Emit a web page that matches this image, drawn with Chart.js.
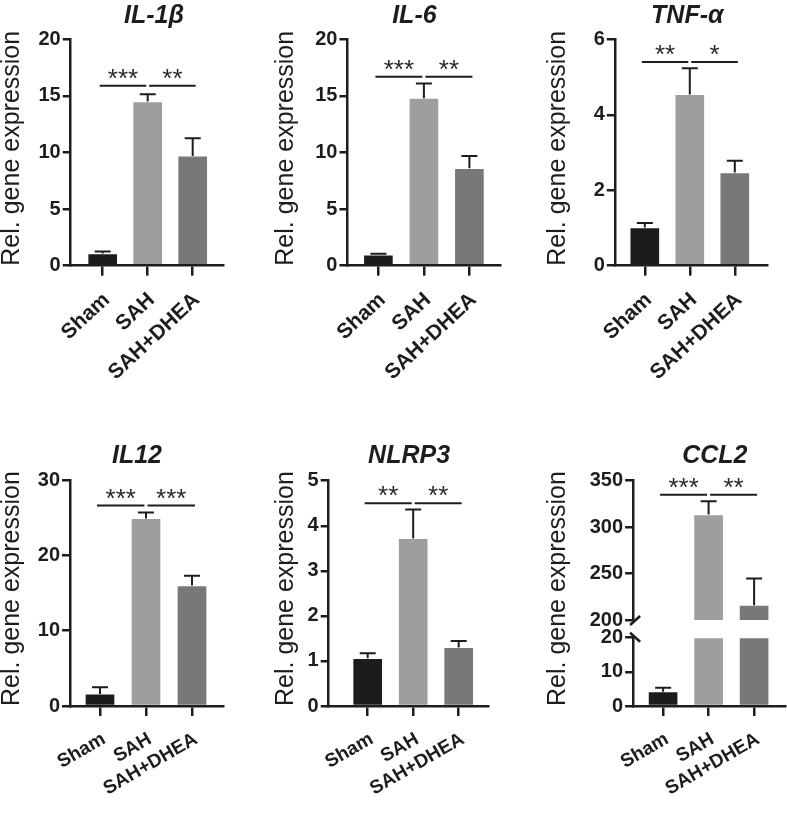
<!DOCTYPE html>
<html>
<head>
<meta charset="utf-8">
<script src="https://cdn.jsdelivr.net/npm/chart.js@4.4.0/dist/chart.umd.min.js"></script>
<style>
  body { margin: 0; background: #fff; }
  #wrap { position: relative; width: 787px; height: 821px; overflow: hidden; }
  .panel { position: absolute; }
</style>
</head>
<body>
<div id="wrap"></div>
<script>
// groups on the x axis
var groups = ['Sham', 'SAH', 'SAH+DHEA'];
var barColors = ['#1c1c1c', '#9e9e9e', '#787878'];

// mean and SEM
var il1b_mean = [1.08, 14.5, 9.7];
var il1b_sem = [0.17, 0.65, 1.55];
var il1b_sig = ['***', '**'];
var il1b_sigLevel = 15.9;

var il6_mean = [0.97, 14.8, 8.6];
var il6_sem = [0.08, 1.3, 1.1];
var il6_sig = ['***', '**'];
var il6_sigLevel = 16.7;

var tnf_mean = [1.01, 4.54, 2.47];
var tnf_sem = [0.12, 0.69, 0.31];
var tnf_sig = ['**', '*'];
var tnf_sigLevel = 5.4;

var il12_mean = [1.6, 24.9, 16.0];
var il12_sem = [0.9, 0.8, 1.3];
var il12_sig = ['***', '***'];
var il12_sigLevel = 26.6;

var nlrp3_mean = [1.06, 3.72, 1.30];
var nlrp3_sem = [0.11, 0.64, 0.14];
var nlrp3_sig = ['**', '**'];
var nlrp3_sigLevel = 4.5;

var ccl2_mean = [4.2, 313.6, 216];
var ccl2_sem = [1.15, 14.4, 28.8];
var ccl2_sig = ['***', '**'];
var ccl2_sigLevel = 335;

var ink = '#1d1d1d';
var family = "'Liberation Sans', Arial, sans-serif";

var panels = [
  {title: 'IL-1β', mean: il1b_mean, sem: il1b_sem, sig: il1b_sig, sigLevel: il1b_sigLevel, yMax: 20, yStep: 5},
  {title: 'IL-6', mean: il6_mean, sem: il6_sem, sig: il6_sig, sigLevel: il6_sigLevel, yMax: 20, yStep: 5},
  {title: 'TNF-α', mean: tnf_mean, sem: tnf_sem, sig: tnf_sig, sigLevel: tnf_sigLevel, yMax: 6, yStep: 2},
  {title: 'IL12', mean: il12_mean, sem: il12_sem, sig: il12_sig, sigLevel: il12_sigLevel, yMax: 30, yStep: 10},
  {title: 'NLRP3', mean: nlrp3_mean, sem: nlrp3_sem, sig: nlrp3_sig, sigLevel: nlrp3_sigLevel, yMax: 5, yStep: 1},
  {title: 'CCL2', mean: ccl2_mean, sem: ccl2_sem, sig: ccl2_sig, sigLevel: ccl2_sigLevel, yMax: 20, yStep: 10,
   broken: true, highMin: 200, highMax: 350, highStep: 50}
];

// where each panel sits on the page (px); rot/lab = x label angle and size
var frames = [
  {rowTop: 0, rowH: 410, left: 0, axisX: 70.7, topY: 39.3, zeroY: 265.7, rightX: 223, c0: 32, s: 45, tx: 154, ty: 22.7, rot: 43, lab: 21},
  {rowTop: 0, rowH: 410, left: 273.6, axisX: 347, topY: 39.3, zeroY: 265.7, rightX: 500, c0: 31, s: 45.5, tx: 414, ty: 22.7, rot: 43, lab: 21},
  {rowTop: 0, rowH: 410, left: 546.2, axisX: 615, topY: 39.3, zeroY: 265.7, rightX: 767, c0: 30, s: 45, tx: 687.5, ty: 22.7, rot: 43, lab: 21},
  {rowTop: 410, rowH: 411, left: 0, axisX: 70, topY: 480, zeroY: 706, rightX: 223, c0: 30, s: 46, tx: 137, ty: 462.7, rot: 30, lab: 19},
  {rowTop: 410, rowH: 411, left: 273.6, axisX: 328.3, topY: 480.7, zeroY: 706, rightX: 488.3, c0: 39, s: 45.5, tx: 408.7, ty: 462.7, rot: 30, lab: 19},
  {rowTop: 410, rowH: 411, left: 546.2, axisX: 633.3, topY: 480.7, zeroY: 706, rightX: 785, c0: 30, s: 45.5, tx: 715, ty: 462.7, rot: 30, lab: 19,
   breakY: 620, lowTopY: 637.7}
];

var errorBars = {
  id: 'errorBars',
  afterDatasetsDraw: function(chart, args, o) {
    var ctx = chart.ctx, xs = chart.scales.x;
    ctx.save();
    ctx.strokeStyle = ink;
    ctx.lineWidth = 2;
    o.mean.forEach(function(m, i) {
      var ys = (chart.scales.yTop && m >= chart.scales.yTop.min) ? chart.scales.yTop : chart.scales.y;
      var x = xs.getPixelForValue(i);
      var y0 = ys.getPixelForValue(m), y1 = ys.getPixelForValue(m + o.sem[i]);
      ctx.beginPath();
      ctx.moveTo(x, y0); ctx.lineTo(x, y1);
      ctx.moveTo(x - 8, y1); ctx.lineTo(x + 8, y1);
      ctx.stroke();
    });
    ctx.restore();
  }
};

var panelText = {
  id: 'panelText',
  afterDraw: function(chart, args, o) {
    var ctx = chart.ctx, xs = chart.scales.x;
    var ys = chart.scales.yTop || chart.scales.y;
    ctx.save();
    ctx.fillStyle = ink;
    ctx.font = 'italic bold 25px ' + family;
    ctx.textAlign = 'center';
    ctx.textBaseline = 'alphabetic';
    ctx.fillText(o.title, o.tx, o.ty);

    // significance brackets
    var yy = ys.getPixelForValue(o.sigLevel);
    var p0 = xs.getPixelForValue(0), p1 = xs.getPixelForValue(1), p2 = xs.getPixelForValue(2);
    var segs = [[p0 - 3, p1 - 1.5], [p1 + 1.5, p2 + 3]];
    ctx.strokeStyle = ink;
    ctx.lineWidth = 2;
    ctx.font = '26px ' + family;
    ctx.fillStyle = '#2a2a2a';
    segs.forEach(function(sg, k) {
      ctx.beginPath(); ctx.moveTo(sg[0], yy); ctx.lineTo(sg[1], yy); ctx.stroke();
      ctx.fillText(o.sig[k], (sg[0] + sg[1]) / 2, yy + 1);
    });

    // axis break marks
    if (chart.scales.yTop) {
      var ax = chart.chartArea.left;
      var b = chart.scales.yTop.bottom, t = chart.scales.y.top;
      ctx.strokeStyle = ink;
      ctx.lineWidth = 2.5;
      ctx.beginPath();
      ctx.moveTo(ax - 3, b + 5); ctx.lineTo(ax + 7, b - 4);
      ctx.moveTo(ax - 3, t - 5); ctx.lineTo(ax + 7, t + 4);
      ctx.stroke();
    }
    ctx.restore();
  }
};

function yScale(min, max, step, W) {
  return {
    min: min, max: max,
    ticks: { stepSize: step, autoSkip: false, color: ink, padding: 2, font: {family: family, size: 20, weight: 'bold'} },
    grid: { drawOnChartArea: false, drawTicks: true, tickLength: 8, lineWidth: 2.5, color: ink, z: 1 },
    border: { display: true, color: ink, width: 2.5, z: 1 },
    afterFit: function(sc) { sc.width = W; }
  };
}

function buildPanel(p, L) {
  var w = Math.ceil(L.rightX - L.left + 3);
  var div = document.createElement('div');
  div.className = 'panel';
  div.style.left = L.left + 'px';
  div.style.top = L.rowTop + 'px';
  div.style.width = w + 'px';
  div.style.height = L.rowH + 'px';
  var cv = document.createElement('canvas');
  div.appendChild(cv);
  document.getElementById('wrap').appendChild(div);

  var H = L.rowTop === 0 ? 130 : 110;
  var W = L.axisX - L.left;
  var xmin = -L.c0 / L.s;

  var scales = {
    x: {
      type: 'linear',
      offset: false,
      min: xmin,
      max: xmin + (L.rightX - L.axisX) / L.s,
      afterBuildTicks: function(sc) { sc.ticks = groups.map(function(g, i) { return {value: i}; }); },
      afterFit: function(sc) { sc.height = H; },
      ticks: {
        callback: function(v) { return groups[v]; },
        minRotation: L.rot, maxRotation: L.rot, autoSkip: false,
        color: ink, padding: 12, labelOffset: 4,
        font: {family: family, size: L.lab, weight: 'bold'}
      },
      grid: { offset: false, drawOnChartArea: false, drawTicks: true, tickLength: 10, lineWidth: 2.5, color: ink, z: 1 },
      border: { display: true, color: ink, width: 2.5, z: 1 }
    }
  };

  var title = { display: true, text: 'Rel. gene expression', align: 'start', color: ink, padding: 0,
                font: {family: family, size: 25, lineHeight: 1} };

  var datasets;
  var base = { backgroundColor: barColors, borderColor: 'rgba(255,255,255,0.35)', borderWidth: 1,
               barThickness: 30, grouped: false };
  if (!p.broken) {
    scales.y = yScale(0, p.yMax, p.yStep, W);
    scales.y.title = title;
    datasets = [Object.assign({ data: p.mean.map(function(v, i) { return {x: i, y: v}; }) }, base)];
  } else {
    scales.y = yScale(0, p.yMax, p.yStep, W);
    scales.y.title = title;
    scales.y.stack = 'ccl';
    scales.y.stackWeight = L.zeroY - L.lowTopY;
    scales.y.weight = 1;
    scales.yGap = {
      min: 0, max: 1, stack: 'ccl', stackWeight: L.lowTopY - L.breakY, weight: 2,
      ticks: {display: false}, grid: {display: false}, border: {display: false},
      afterFit: function(sc) { sc.width = W; }
    };
    scales.yTop = yScale(p.highMin, p.highMax, p.highStep, W);
    scales.yTop.stack = 'ccl';
    scales.yTop.stackWeight = L.breakY - L.topY;
    scales.yTop.weight = 3;
    datasets = [
      Object.assign({ yAxisID: 'y', data: p.mean.map(function(v, i) { return {x: i, y: Math.min(v, p.yMax)}; }) }, base),
      Object.assign({ yAxisID: 'yTop', data: p.mean.map(function(v, i) { return {x: i, y: v >= p.highMin ? v : null}; }) }, base)
    ];
  }

  new Chart(cv.getContext('2d'), {
    type: 'bar',
    data: { datasets: datasets },
    options: {
      responsive: true,
      maintainAspectRatio: false,
      animation: false,
      layout: { padding: { left: 0, top: L.topY - L.rowTop, right: w - (L.rightX - L.left),
                           bottom: L.rowH - (L.zeroY - L.rowTop) - H } },
      scales: scales,
      plugins: {
        legend: { display: false },
        tooltip: { enabled: false },
        errorBars: { mean: p.mean, sem: p.sem },
        panelText: { title: p.title, tx: L.tx - L.left, ty: L.ty - L.rowTop, sig: p.sig, sigLevel: p.sigLevel }
      }
    },
    plugins: [errorBars, panelText]
  });
}

panels.forEach(function(p, i) { buildPanel(p, frames[i]); });
</script>
</body>
</html>
